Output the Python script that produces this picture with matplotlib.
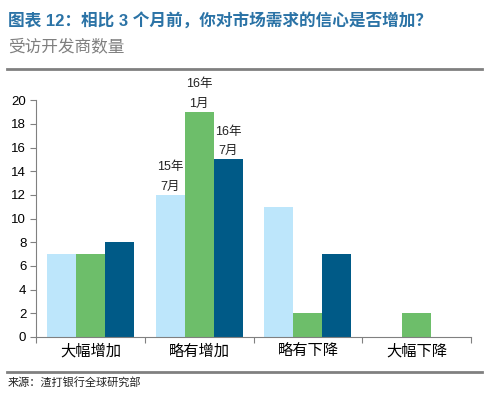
import numpy as np
import matplotlib.pyplot as plt
from matplotlib.lines import Line2D

plt.rcParams['font.family'] = ['Liberation Sans', 'Noto Sans CJK SC', 'DejaVu Sans']

categories = ['大幅增加', '略有增加', '略有下降', '大幅下降']
jul15 = [7, 12, 11, 0]
jan16 = [7, 19, 2, 2]
jul16 = [8, 15, 7, 0]
series_labels = ['15年\n7月', '16年\n1月', '16年\n7月']
colors = ['#BDE6FB', '#6DBE6A', '#005A87']

TITLE = '图表 12：相比 3 个月前，你对市场需求的信心是否增加？'
SUBTITLE = '受访开发商数量'
SOURCE = '来源：渣打银行全球研究部'

fig = plt.figure(figsize=(4.91, 3.96), dpi=100)
ax = fig.add_axes([0.0733, 0.149, 0.886, 0.598])

x = np.arange(len(categories))
w = 0.267
series = [jul15, jan16, jul16]
bars = []
for i, (vals, c) in enumerate(zip(series, colors)):
    bars.append(ax.bar(x + (i - 1) * w, vals, width=w, color=c, zorder=2))

# labels above the second group
for i, b in enumerate(bars):
    rect = b[1]
    ax.annotate(series_labels[i], (rect.get_x() + rect.get_width() / 2, rect.get_height()),
                xytext=(0, 1.5), textcoords='offset points', ha='center', va='bottom',
                fontsize=9, linespacing=1.85, color='#222222', annotation_clip=False)

ax.set_xlim(-0.5, len(categories) - 0.5)
ax.set_ylim(0, 20)
ax.set_yticks(range(0, 21, 2))
ax.set_xticks(np.arange(-0.5, len(categories), 1.0))
ax.set_xticklabels([])
ax.set_xticks(x, minor=True)
ax.set_xticklabels(categories, minor=True, fontsize=11)
ax.tick_params(axis='x', which='minor', length=0, pad=5)
ax.tick_params(axis='x', which='major', length=4, color='#808080')
ax.tick_params(axis='y', length=4, color='#808080', labelsize=9.5, pad=3)
for s in ['top', 'right']:
    ax.spines[s].set_visible(False)
for s in ['left', 'bottom']:
    ax.spines[s].set_color('#808080')

fig.text(0.016, 0.948, TITLE, fontsize=12, fontweight='bold', color='#2B73A6', va='center')
fig.text(0.016, 0.884, SUBTITLE, fontsize=12, style='italic', color='#7F7F7F', va='center')
fig.add_artist(Line2D([0.014, 0.982], [0.827, 0.827], color='#808080', lw=2, transform=fig.transFigure))
fig.add_artist(Line2D([0.014, 0.982], [0.06, 0.06], color='#808080', lw=2, transform=fig.transFigure))
fig.text(0.016, 0.035, SOURCE, fontsize=8, color='#222222', va='center')

fig.savefig('out.png', dpi=100)
